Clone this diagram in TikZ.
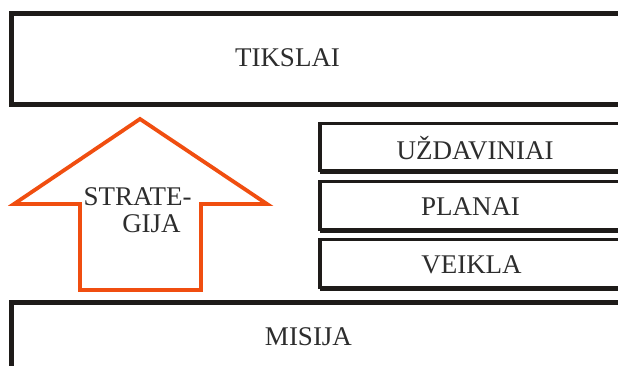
\documentclass[tikz,border=0pt]{standalone}
\usepackage{fontspec}
\setmainfont{Liberation Serif}
\definecolor{boxline}{RGB}{30,27,25}
\definecolor{arroworange}{RGB}{240,78,16}
\definecolor{txt}{RGB}{45,45,45}
\begin{document}
\begin{tikzpicture}[x=1pt,y=-1pt,
  bigbox/.style={draw=boxline, line width=5pt, rectangle, inner sep=0pt, outer sep=0pt},
  smallbox/.style={draw=boxline, line width=3.4pt, rectangle, inner sep=0pt, outer sep=0pt},
  lbl/.style={text=txt, font=\fontsize{27}{28}\selectfont, inner sep=0pt, anchor=base},
  heavybottom/.style={draw=boxline, line width=5pt},
  stratarrow/.style={draw=arroworange, line width=3.8pt, line join=miter}]
\useasboundingbox (0,0) rectangle (618,366);
\clip (0,0) rectangle (618,366);
% boxes
\node[bigbox, minimum width=640pt, minimum height=90.5pt] (tikslaiBox) at (331.5,59.25) {};
\node[smallbox, minimum width=640pt, minimum height=47pt] (uzdBox) at (640,147) {};
\node[smallbox, minimum width=640pt, minimum height=48.5pt] (planBox) at (640,205.5) {};
\node[smallbox, minimum width=640pt, minimum height=48.5pt] (veikBox) at (640,263.5) {};
\node[bigbox, minimum width=640pt, minimum height=97.5pt] (misijaBox) at (331.5,351.25) {};
% heavier bottom edges of small boxes
\draw[heavybottom] ([yshift=-0.8pt]uzdBox.south west) -- ([yshift=-0.8pt]uzdBox.south east);
\draw[heavybottom] ([yshift=-0.8pt]planBox.south west) -- ([yshift=-0.8pt]planBox.south east);
\draw[heavybottom] ([yshift=-0.8pt]veikBox.south west) -- ([yshift=-0.8pt]veikBox.south east);
% strategy arrow
\draw[stratarrow] (140,119) -- (267,204) -- (201,204) -- (201,290) -- (80,290) -- (80,204) -- (14,204) -- cycle;
% labels
\node[lbl] (tikslai) at (287.5,67) {TIKSLAI};
\node[lbl] (uzd) at (475,160) {UŽDAVINIAI};
\node[lbl] (planai) at (470.5,215) {PLANAI};
\node[lbl] (veikla) at (471.5,273) {VEIKLA};
\node[lbl] (misija) at (308.5,345) {MISIJA};
\node[lbl] (strate) at (137.5,205) {STRATE-};
\node[lbl] (gija) at (151.5,233) {GIJA};
\end{tikzpicture}
\end{document}
